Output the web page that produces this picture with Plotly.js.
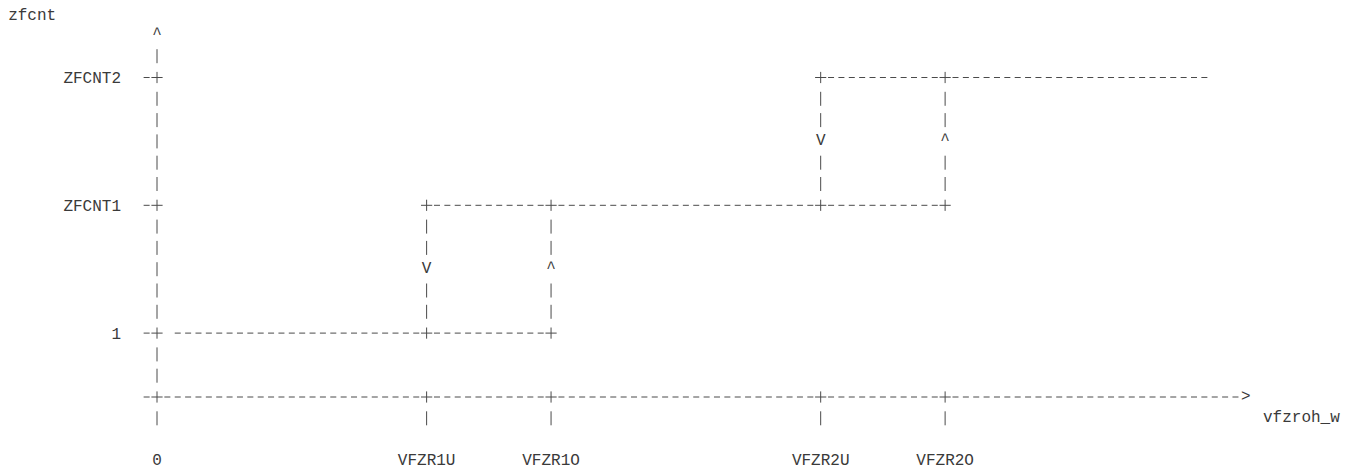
<!DOCTYPE html>
<html>
<head>
<meta charset="utf-8">
<script src="https://cdn.plot.ly/plotly-3.0.1.min.js"></script>
<style>html,body{margin:0;padding:0;background:#fff;}#chart{width:1356px;height:472px;}</style>
</head>
<body>
<div id="chart"></div>
<script>
// ---- data (character-grid units: columns along x, rows along y) ----
const yAxisName = 'zfcnt';
const xAxisName = 'vfzroh_w';
const xTickLabels = ['0', 'VFZR1U', 'VFZR1O', 'VFZR2U', 'VFZR2O'];
const xTickPos = [0, 26, 38, 64, 76];
const yTickLabels = ['1', 'ZFCNT1', 'ZFCNT2'];
const yTickPos = [3, 9, 15];
// hysteresis levels: row, first and last column of each level line
const levelRow = [3, 9, 15];
const levelFrom = [2, 26, 64];
const levelTo = [38, 76, 101];
// switching thresholds between level i and level i+1
const switchDownX = [26, 64];   // falling edge (V)
const switchUpX = [38, 76];     // rising edge (^)
const xAxisEnd = 105;
const yAxisTop = 17;

// ---- geometry ----
const W = 1356, H = 472;
const colPx = 10.37, rowPx = 21.3, originX = 157, originY = 397;
const M = {l: 130, r: 8, t: 4, b: 38};
const xRange = [(M.l - originX) / colPx, (W - M.r - originX) / colPx];
const yRange = [(originY - (H - M.b)) / rowPx, (originY - M.t) / rowPx];
const FONT = 'Liberation Mono, Courier New, monospace';
const LINE = '#4a4a4a';
const TEXT = '#3a3a3a';

const traces = [];
function runs(from, to, nodes) {
  const out = []; let cur = from;
  nodes.slice().sort((a, b) => a - b).forEach(n => {
    if (n >= from && n <= to) { if (n - 1 >= cur) out.push([cur, n - 1]); cur = n + 1; }
  });
  if (to >= cur) out.push([cur, to]);
  return out;
}
function hSeg(c1, c2, row) {
  traces.push({x: [c1 - 3 / colPx, c2 + 3 / colPx], y: [row, row], mode: 'lines',
    line: {color: LINE, width: 1, dash: '6px,4.37px'}, hoverinfo: 'skip'});
}
function vSeg(col, rLo, rHi) {
  traces.push({x: [col, col], y: [rHi + 7 / rowPx, rLo - 7 / rowPx], mode: 'lines',
    line: {color: LINE, width: 1, dash: '14px,7.3px'}, hoverinfo: 'skip'});
}

// x axis line with ticks below
runs(-1, xAxisEnd - 1, xTickPos).forEach(r => hSeg(r[0], r[1], 0));
xTickPos.forEach(c => vSeg(c, -1, -1));
// y axis line (above the x axis) with ticks to the left
runs(1, yAxisTop - 1, yTickPos).forEach(r => vSeg(0, r[0], r[1]));
yTickPos.forEach(r => hSeg(-1, -1, r));

// level lines
const nodeX = [], nodeY = [];
xTickPos.forEach(c => { nodeX.push(c); nodeY.push(0); });
yTickPos.forEach(r => { nodeX.push(0); nodeY.push(r); });
const arrowX = [], arrowY = [], arrowT = [];
for (let i = 0; i < switchDownX.length; i++) {
  [switchDownX[i], switchUpX[i]].forEach((x, k) => {
    const lo = levelRow[i], hi = levelRow[i + 1], mid = (lo + hi) / 2;
    nodeX.push(x, x); nodeY.push(lo, hi);
    runs(lo + 1, hi - 1, [mid]).forEach(r => vSeg(x, r[0], r[1]));
    arrowX.push(x); arrowY.push(mid); arrowT.push(k === 0 ? 'V' : '^');
  });
}
levelRow.forEach((row, i) => {
  const nodesOnRow = nodeX.filter((x, j) => nodeY[j] === row && x > 0);
  runs(levelFrom[i], levelTo[i], nodesOnRow).forEach(r => hSeg(r[0], r[1], row));
});

// "+" junctions
traces.push({x: nodeX, y: nodeY, mode: 'markers', hoverinfo: 'skip',
  marker: {symbol: 'cross-thin', size: 8, line: {color: LINE, width: 1}, color: LINE}});
// arrow heads
arrowX.push(0, xAxisEnd); arrowY.push(yAxisTop, 0); arrowT.push('^', '>');
traces.push({x: arrowX, y: arrowY, text: arrowT, mode: 'text', textposition: 'middle center',
  textfont: {family: FONT, size: 16, color: TEXT}, hoverinfo: 'skip'});

const layout = {
  width: W, height: H, margin: M, showlegend: false, hovermode: false,
  paper_bgcolor: '#fff', plot_bgcolor: '#fff',
  title: {text: yAxisName, x: 0.006, xanchor: 'left', xref: 'container',
    y: 1 - 14 / H, yanchor: 'middle', yref: 'container',
    font: {family: FONT, size: 16, color: TEXT}},
  xaxis: {range: xRange, showgrid: false, zeroline: false, showline: false, ticks: '',
    tickvals: xTickPos, ticktext: xTickLabels, ticklabelstandoff: 14,
    tickfont: {family: FONT, size: 16, color: TEXT}, fixedrange: true},
  yaxis: {range: yRange, showgrid: false, zeroline: false, showline: false, ticks: '',
    tickvals: yTickPos, ticktext: yTickLabels, ticklabelstandoff: 8,
    tickfont: {family: FONT, size: 16, color: TEXT}, fixedrange: true},
  annotations: [{text: xAxisName, x: 107 - 0.5, y: -1, xref: 'x', yref: 'y',
    xanchor: 'left', yanchor: 'middle', showarrow: false,
    font: {family: FONT, size: 16, color: TEXT}}]
};
Plotly.newPlot('chart', traces, layout, {displayModeBar: false, staticPlot: true});
</script>
</body>
</html>
